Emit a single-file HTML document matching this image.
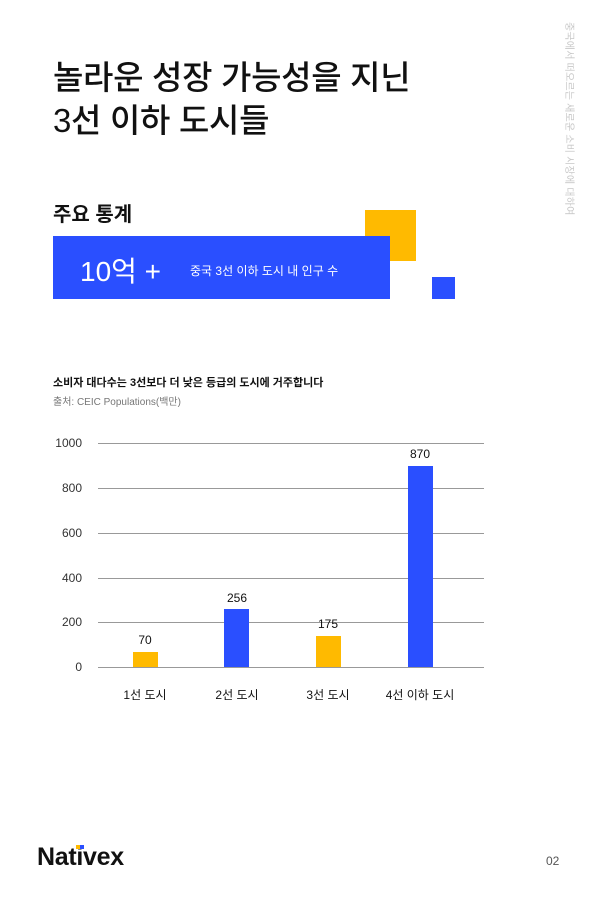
<!DOCTYPE html>
<html><head><meta charset="utf-8"><style>
body{margin:0;width:601px;height:898px;background:#fff;position:relative;overflow:hidden;font-family:"Liberation Sans","Noto Sans CJK KR",sans-serif;color:#111}
.a{position:absolute}
.grid{position:absolute;left:98px;width:386px;height:1px;background:#999}
.yl{position:absolute;width:30px;text-align:right;left:52px;font-size:12px;color:#333}
.bar{position:absolute;width:25px}
.v{position:absolute;width:50px;text-align:center;font-size:12px}
.x{position:absolute;width:100px;text-align:center;font-size:12px;top:686px}
</style></head><body>
<div class="a" style="left:53px;top:56px;font-size:33px;font-weight:500;line-height:43px;letter-spacing:-0.3px">놀라운 성장 가능성을 지닌<br>3선 이하 도시들</div>
<div class="a" style="left:563px;top:22px;writing-mode:vertical-rl;text-orientation:sideways;font-size:10px;color:#c8c8c8;letter-spacing:0.2px">중국에서 떠오르는 새로운 소비 시장에 대하여</div>
<div class="a" style="left:53px;top:198px;font-size:20px;font-weight:bold">주요 통계</div>
<div class="a" style="left:365px;top:210px;width:51px;height:51px;background:#ffba00"></div>
<div class="a" style="left:53px;top:236px;width:337px;height:63px;background:#2a4fff"></div>
<div class="a" style="left:432px;top:277px;width:23px;height:22px;background:#2a4fff"></div>
<div class="a" style="left:80px;top:250px;font-size:28px;color:#fff">10억 +</div>
<div class="a" style="left:190px;top:262px;font-size:12px;color:#fff">중국 3선 이하 도시 내 인구 수</div>
<div class="a" style="left:53px;top:374px;font-size:11px;font-weight:bold">소비자 대다수는 3선보다 더 낮은 등급의 도시에 거주합니다</div>
<div class="a" style="left:53px;top:393px;font-size:10px;color:#777">출처: CEIC Populations(백만)</div>
<div class="grid" style="top:443px"></div><div class="grid" style="top:488px"></div><div class="grid" style="top:533px"></div><div class="grid" style="top:578px"></div><div class="grid" style="top:622px"></div><div class="grid" style="top:667px"></div>
<div class="yl" style="top:436px">1000</div><div class="yl" style="top:481px">800</div><div class="yl" style="top:526px">600</div><div class="yl" style="top:571px">400</div><div class="yl" style="top:615px">200</div><div class="yl" style="top:660px">0</div>
<div class="bar" style="left:133px;top:652px;height:15px;background:#ffba00"></div>
<div class="bar" style="left:224px;top:609px;height:58px;background:#2a4fff"></div>
<div class="bar" style="left:316px;top:636px;height:31px;background:#ffba00"></div>
<div class="bar" style="left:408px;top:466px;height:201px;background:#2a4fff"></div>
<div class="v" style="left:120px;top:633px">70</div>
<div class="v" style="left:212px;top:591px">256</div>
<div class="v" style="left:303px;top:617px">175</div>
<div class="v" style="left:395px;top:447px">870</div>
<div class="x" style="left:95px">1선 도시</div>
<div class="x" style="left:187px">2선 도시</div>
<div class="x" style="left:278px">3선 도시</div>
<div class="x" style="left:370px">4선 이하 도시</div>
<div class="a" style="left:37px;top:843px;font-size:25px;font-weight:bold;letter-spacing:-0.3px">Nativex</div>
<div class="a" style="left:76px;top:845px;width:4px;height:4px;background:#ffba00"></div>
<div class="a" style="left:80px;top:845px;width:4px;height:4px;background:#2a4fff"></div>
<div class="a" style="left:546px;top:854px;font-size:12px;color:#555">02</div>
</body></html>
